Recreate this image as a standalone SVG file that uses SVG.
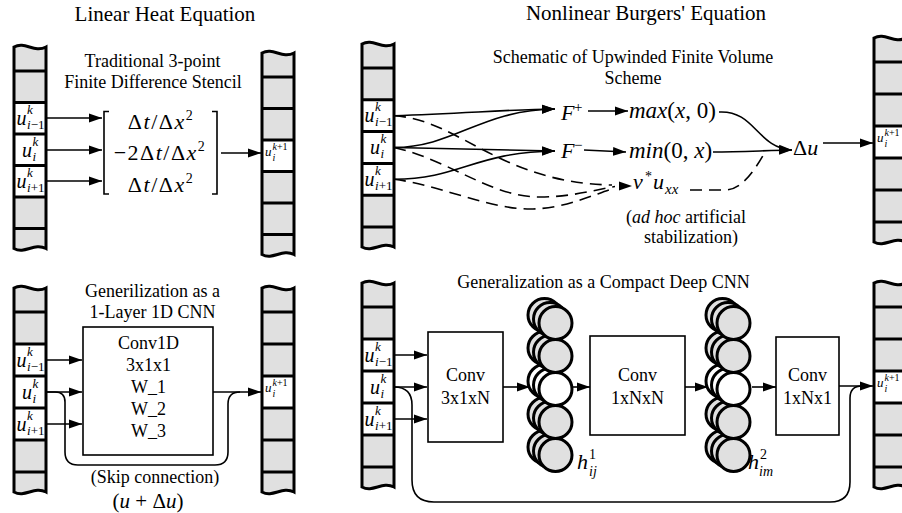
<svg xmlns="http://www.w3.org/2000/svg" width="902" height="513" viewBox="0 0 902 513">
<defs>
<style>
.colbg{fill:#e0e0e0;stroke:none}
.colol{fill:none;stroke:#000;stroke-width:3}
.cell{fill:#fff}
.dv{fill:none;stroke:#000;stroke-width:3}
.ln{fill:none;stroke:#000;stroke-width:1.6}
.dash{fill:none;stroke:#000;stroke-width:1.6;stroke-dasharray:12 7}
.arr{fill:none;stroke:#000;stroke-width:1.6;marker-end:url(#ah)}
.box{fill:#fff;stroke:#000;stroke-width:1.6}
.cg{fill:#e0e0e0;stroke:#000;stroke-width:3}
.cw{fill:#fff;stroke:#000;stroke-width:3}
text{font-family:"Liberation Serif","Times New Roman","DejaVu Serif",serif;fill:#000}
.t21{font-size:21px}
.t18{font-size:18px}
.m{text-anchor:middle}
.it{font-style:italic}
.cu{font-size:20px;font-style:italic}
.cs{font-size:13px;font-style:italic}
.ou{font-size:13px;font-style:italic}
.os{font-size:10px;font-style:italic}
.mx{font-size:22px;letter-spacing:1.5px;text-anchor:middle}
.mt{font-size:23px}
</style>
<marker id="ah" markerUnits="userSpaceOnUse" markerWidth="13" markerHeight="10" refX="13" refY="5" orient="auto"><path d="M0,0.5 L13,5 L0,9.5 Z" fill="#000"/></marker>
</defs>

<g id="titles">
<text class="t21 m" x="165" y="21">Linear Heat Equation</text>
<text class="t21 m" x="646" y="20">Nonlinear Burgers' Equation</text>
<text class="t18 m" x="152.5" y="66.5">Traditional 3-point</text>
<text class="t18 m" x="153" y="88">Finite Difference Stencil</text>
<text class="t18 m" x="633" y="63">Schematic of Upwinded Finite Volume</text>
<text class="t18 m" x="633" y="84">Scheme</text>
<text class="t18 m" x="152.5" y="297">Generilization as a</text>
<text class="t18 m" x="152.5" y="318">1-Layer 1D CNN</text>
<text class="t18 m" x="603.5" y="288">Generalization as a Compact Deep CNN</text>
<text class="t18 m" x="155" y="483">(Skip connection)</text>
<text class="m" x="148" y="507.5" font-size="21">(<tspan class="it">u</tspan> + Δ<tspan class="it">u</tspan>)</text>
<text class="t18 m" x="686" y="223">(<tspan class="it">ad hoc</tspan> artificial</text>
<text class="t18 m" x="691" y="243">stabilization)</text>
</g>

<g id="col-tl-in">
<path class="colbg" d="M14,47 C25,41 34,53 46,47 L46,248.5 C34,242.5 25,254.5 14,248.5 Z"/>
<rect class="cell" x="14" y="102.5" width="32" height="94.5"/>
<path class="dv" d="M14,71H46M14,102.5H46M14,134H46M14,165.5H46M14,197H46M14,228.5H46"/>
<path class="colol" d="M14,47 C25,41 34,53 46,47 L46,248.5 C34,242.5 25,254.5 14,248.5 Z"/>
<text class="cu" x="16.5" y="125">u</text><text class="cs" x="27" y="114">k</text><text class="cs" x="27" y="129">i<tspan font-style="normal">−1</tspan></text>
<text class="cu" x="22" y="156.5">u</text><text class="cs" x="32.5" y="145.5">k</text><text class="cs" x="32.5" y="160.5">i</text>
<text class="cu" x="16.5" y="188">u</text><text class="cs" x="27" y="177">k</text><text class="cs" x="27" y="192">i<tspan font-style="normal">+1</tspan></text>
</g>

<g id="col-tl-out">
<path class="colbg" d="M262,53 C273,47 282,59 294,53 L294,254.5 C282,248.5 273,260.5 262,254.5 Z"/>
<rect class="cell" x="262" y="140" width="32" height="31.5"/>
<path class="dv" d="M262,77H294M262,108.5H294M262,140H294M262,171.5H294M262,203H294M262,234.5H294"/>
<path class="colol" d="M262,53 C273,47 282,59 294,53 L294,254.5 C282,248.5 273,260.5 262,254.5 Z"/>
<text class="ou" x="265" y="156">u</text><text class="os" x="272.5" y="150">k<tspan font-style="normal">+1</tspan></text><text class="os" x="272.5" y="160.5">i</text>
</g>

<g id="col-tr-in">
<path class="colbg" d="M362,44 C373,38 382,50 394,44 L394,247 C382,241 373,253 362,247 Z"/>
<rect class="cell" x="362" y="99.8" width="32" height="95.4"/>
<path class="dv" d="M362,68H394M362,99.8H394M362,131.6H394M362,163.4H394M362,195.2H394M362,227H394"/>
<path class="colol" d="M362,44 C373,38 382,50 394,44 L394,247 C382,241 373,253 362,247 Z"/>
<text class="cu" x="364.5" y="122.3">u</text><text class="cs" x="375" y="111.3">k</text><text class="cs" x="375" y="126.3">i<tspan font-style="normal">−1</tspan></text>
<text class="cu" x="370" y="154.1">u</text><text class="cs" x="380.5" y="143.1">k</text><text class="cs" x="380.5" y="158.1">i</text>
<text class="cu" x="364.5" y="185.9">u</text><text class="cs" x="375" y="174.9">k</text><text class="cs" x="375" y="189.9">i<tspan font-style="normal">+1</tspan></text>
</g>

<g id="col-tr-out">
<path class="colbg" d="M874,38 C885,32 894,44 906,38 L906,242 C894,236 885,248 874,242 Z"/>
<rect class="cell" x="874" y="126" width="32" height="32"/>
<path class="dv" d="M874,62H906M874,94H906M874,126H906M874,158H906M874,190H906M874,222H906"/>
<path class="colol" d="M874,38 C885,32 894,44 906,38 L906,242 C894,236 885,248 874,242 Z"/>
<text class="ou" x="877" y="142">u</text><text class="os" x="884.5" y="136">k<tspan font-style="normal">+1</tspan></text><text class="os" x="884.5" y="146.5">i</text>
</g>

<g id="col-bl-in">
<path class="colbg" d="M14,288 C25,282 34,294 46,288 L46,492 C34,486 25,498 14,492 Z"/>
<rect class="cell" x="14" y="344" width="32" height="96"/>
<path class="dv" d="M14,312H46M14,344H46M14,376H46M14,408H46M14,440H46M14,472H46"/>
<path class="colol" d="M14,288 C25,282 34,294 46,288 L46,492 C34,486 25,498 14,492 Z"/>
<text class="cu" x="16.5" y="366.5">u</text><text class="cs" x="27" y="355.5">k</text><text class="cs" x="27" y="370.5">i<tspan font-style="normal">−1</tspan></text>
<text class="cu" x="22" y="398.5">u</text><text class="cs" x="32.5" y="387.5">k</text><text class="cs" x="32.5" y="402.5">i</text>
<text class="cu" x="16.5" y="430.5">u</text><text class="cs" x="27" y="419.5">k</text><text class="cs" x="27" y="434.5">i<tspan font-style="normal">+1</tspan></text>
</g>

<g id="col-bl-out">
<path class="colbg" d="M262,288 C273,282 282,294 294,288 L294,492 C282,486 273,498 262,492 Z"/>
<rect class="cell" x="262" y="376" width="32" height="32"/>
<path class="dv" d="M262,312H294M262,344H294M262,376H294M262,408H294M262,440H294M262,472H294"/>
<path class="colol" d="M262,288 C273,282 282,294 294,288 L294,492 C282,486 273,498 262,492 Z"/>
<text class="ou" x="265" y="392">u</text><text class="os" x="272.5" y="386">k<tspan font-style="normal">+1</tspan></text><text class="os" x="272.5" y="396.5">i</text>
</g>

<g id="col-br-in">
<path class="colbg" d="M362,283 C373,277 382,289 394,283 L394,487 C382,481 373,493 362,487 Z"/>
<rect class="cell" x="362" y="339" width="32" height="96"/>
<path class="dv" d="M362,307H394M362,339H394M362,371H394M362,403H394M362,435H394M362,467H394"/>
<path class="colol" d="M362,283 C373,277 382,289 394,283 L394,487 C382,481 373,493 362,487 Z"/>
<text class="cu" x="364.5" y="361.5">u</text><text class="cs" x="375" y="350.5">k</text><text class="cs" x="375" y="365.5">i<tspan font-style="normal">−1</tspan></text>
<text class="cu" x="370" y="393.5">u</text><text class="cs" x="380.5" y="382.5">k</text><text class="cs" x="380.5" y="397.5">i</text>
<text class="cu" x="364.5" y="425.5">u</text><text class="cs" x="375" y="414.5">k</text><text class="cs" x="375" y="429.5">i<tspan font-style="normal">+1</tspan></text>
</g>

<g id="col-br-out">
<path class="colbg" d="M874,283 C885,277 894,289 906,283 L906,487 C894,481 885,493 874,487 Z"/>
<rect class="cell" x="874" y="371" width="32" height="32"/>
<path class="dv" d="M874,307H906M874,339H906M874,371H906M874,403H906M874,435H906M874,467H906"/>
<path class="colol" d="M874,283 C885,277 894,289 906,283 L906,487 C894,481 885,493 874,487 Z"/>
<text class="ou" x="877" y="387">u</text><text class="os" x="884.5" y="381">k<tspan font-style="normal">+1</tspan></text><text class="os" x="884.5" y="391.5">i</text>
</g>

<g id="stencil">
<path class="ln" d="M109,111.5H104V194H109"/>
<path class="ln" d="M212,111.5H217V194H212"/>
<text class="mx" x="161" y="128.5">Δ<tspan class="it">t</tspan>/Δ<tspan class="it">x</tspan><tspan font-size="14" dy="-9">2</tspan></text>
<text class="mx" x="160" y="160">−2Δ<tspan class="it">t</tspan>/Δ<tspan class="it">x</tspan><tspan font-size="14" dy="-9">2</tspan></text>
<text class="mx" x="161" y="191.5">Δ<tspan class="it">t</tspan>/Δ<tspan class="it">x</tspan><tspan font-size="14" dy="-9">2</tspan></text>
</g>

<g id="fv-terms">
<text x="561" y="120"><tspan class="it" font-size="22">F</tspan></text><text x="574" y="112" font-size="15">+</text>
<text x="561" y="158"><tspan class="it" font-size="22">F</tspan></text><text x="574" y="150" font-size="15">−</text>
<text class="mt" x="629" y="118"><tspan class="it">max</tspan>(<tspan class="it">x</tspan>, 0)</text>
<text class="mt" x="629" y="158"><tspan class="it">min</tspan>(0, <tspan class="it">x</tspan>)</text>
<text x="633" y="189" font-size="22" class="it">ν</text><text x="645" y="181" font-size="14">*</text>
<text x="653" y="189" font-size="22" class="it">u</text><text x="665" y="194" font-size="15" class="it">xx</text>
<text x="793" y="155" font-size="22">Δ<tspan class="it">u</tspan></text>
</g>

<g id="cnn-boxes">
<rect id="conv1d" class="box" x="83" y="327" width="130" height="128"/>
<text class="t18 m" x="148.5" y="349">Conv1D</text>
<text class="t18 m" x="148.5" y="371">3x1x1</text>
<text class="t18 m" x="148.5" y="393">W_1</text>
<text class="t18 m" x="148.5" y="415">W_2</text>
<text class="t18 m" x="148.5" y="437">W_3</text>
<rect id="conv-a" class="box" x="428" y="332" width="75" height="110"/>
<text class="t18 m" x="465.5" y="381">Conv</text>
<text class="t18 m" x="465.5" y="404">3x1xN</text>
<rect id="conv-b" class="box" x="590" y="336" width="95" height="99"/>
<text class="t18 m" x="637.5" y="381">Conv</text>
<text class="t18 m" x="637.5" y="404">1xNxN</text>
<rect id="conv-c" class="box" x="776" y="337" width="63" height="98"/>
<text class="t18 m" x="807.5" y="381">Conv</text>
<text class="t18 m" x="807.5" y="404">1xNx1</text>
</g>

<g id="connectors">
<path class="arr" d="M47,118H102"/>
<path class="arr" d="M47,150H102"/>
<path class="arr" d="M47,181H102"/>
<path class="arr" d="M221,153H261"/>

<path class="arr" d="M394,115.7 C470,113 510,109.5 555,109"/>
<path class="arr" d="M394,147.5 C455,147 480,110 555,109"/>
<path class="arr" d="M394,147.5 L555,151"/>
<path class="arr" d="M394,179.3 C460,179 475,152 555,151"/>
<path class="dash" d="M394,115.7 C460,120 500,183 612,185"/>
<path class="dash" d="M394,147.5 C450,160 490,197 540,197 C570,197 595,190 615,186.5"/>
<path class="dash" d="M394,179.3 C440,185 490,210 533,209 C565,208 590,196 615,188"/>
<polygon points="619,181.5 632,186 619,190.5" fill="#000"/>
<path class="arr" d="M588,111H628"/>
<path class="arr" d="M584,150L626,152"/>
<path class="arr" d="M719,112 C755,110 757,148 792,150"/>
<path class="arr" d="M713,152 C740,152 765,150.5 792,150"/>
<path class="dash" d="M690,190 L725,190 C740,190 752,175 765,152"/>
<path class="arr" d="M823,143H873"/>

<path class="arr" d="M47,360H82"/>
<path class="arr" d="M47,392H82"/>
<path class="arr" d="M47,424H82"/>
<path class="arr" d="M213,392H261"/>
<path class="ln" d="M47,392 L55,392 Q65,392 65,402 L65,452 Q65,465 78,465 L215,465 Q228,465 228,452 L228,404 Q228,392 240,392"/>

<path class="arr" d="M394,355H427"/>
<path class="arr" d="M394,387H427"/>
<path class="arr" d="M394,419H427"/>
<path class="arr" d="M503,387H530"/>
<path class="arr" d="M573,387H590"/>
<path class="arr" d="M685,387H708"/>
<path class="arr" d="M752,387H776"/>
<path class="arr" d="M839,386H873"/>
<path class="ln" d="M394,387 Q412,387 412,405 L412,480 Q412,502 434,502 L830,502 Q850,502 850,482 L850,398 Q850,386 862,386"/>
</g>

<g id="hidden-layer-1">
<circle class="cg" cx="544.5" cy="315" r="16.5"/><circle class="cg" cx="544.5" cy="348" r="16.5"/><circle class="cw" cx="544.5" cy="381" r="16.5"/><circle class="cg" cx="544.5" cy="414" r="16.5"/><circle class="cg" cx="544.5" cy="447" r="16.5"/>
<circle class="cg" cx="550" cy="319" r="16.5"/><circle class="cg" cx="550" cy="352" r="16.5"/><circle class="cw" cx="550" cy="385" r="16.5"/><circle class="cg" cx="550" cy="418" r="16.5"/><circle class="cg" cx="550" cy="451" r="16.5"/>
<circle class="cg" cx="555.5" cy="323" r="16.5"/><circle class="cg" cx="555.5" cy="356" r="16.5"/><circle class="cw" cx="555.5" cy="389" r="16.5"/><circle class="cg" cx="555.5" cy="422" r="16.5"/><circle class="cg" cx="555.5" cy="455" r="16.5"/>
<text x="577" y="469" font-size="22" class="it">h</text><text x="589" y="459" font-size="14">1</text><text x="589" y="476" font-size="14" class="it">ij</text>
</g>

<g id="hidden-layer-2">
<circle class="cg" cx="722.5" cy="315" r="16.5"/><circle class="cg" cx="722.5" cy="348" r="16.5"/><circle class="cw" cx="722.5" cy="381" r="16.5"/><circle class="cg" cx="722.5" cy="414" r="16.5"/><circle class="cg" cx="722.5" cy="447" r="16.5"/>
<circle class="cg" cx="728" cy="319" r="16.5"/><circle class="cg" cx="728" cy="352" r="16.5"/><circle class="cw" cx="728" cy="385" r="16.5"/><circle class="cg" cx="728" cy="418" r="16.5"/><circle class="cg" cx="728" cy="451" r="16.5"/>
<circle class="cg" cx="733.5" cy="323" r="16.5"/><circle class="cg" cx="733.5" cy="356" r="16.5"/><circle class="cw" cx="733.5" cy="389" r="16.5"/><circle class="cg" cx="733.5" cy="422" r="16.5"/><circle class="cg" cx="733.5" cy="455" r="16.5"/>
<text x="748" y="469" font-size="22" class="it">h</text><text x="760" y="459" font-size="14">2</text><text x="759" y="476" font-size="14" class="it">im</text>
</g>
</svg>
